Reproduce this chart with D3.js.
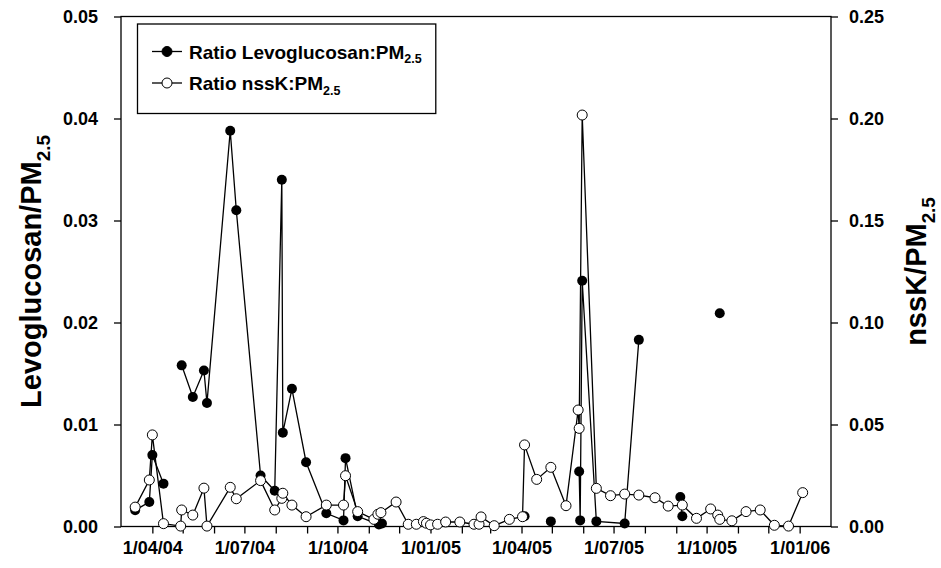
<!DOCTYPE html>
<html><head><meta charset="utf-8">
<script src="https://cdn.jsdelivr.net/npm/d3@7"></script>
<style>
body{margin:0;background:#fff}
svg{display:block}
text{font-family:Arial,"Liberation Sans",Helvetica,sans-serif;font-weight:bold;fill:#000}
</style>
</head><body>
<svg id="chart" width="941" height="568"></svg>
<script>
// ---- data ----
const levoDates = ["2004-03-15","2004-03-29","2004-04-01","2004-04-12","2004-04-29",
  "2004-04-30","2004-05-11","2004-05-22","2004-05-25","2004-06-17","2004-06-23","2004-07-17","2004-07-31",
  "2004-08-07","2004-08-08","2004-08-17","2004-08-31","2004-09-20","2004-10-07","2004-10-09","2004-10-21",
  "2004-11-11","2004-11-14","2004-11-28","2005-04-04","2005-04-16","2005-04-30","2005-05-15",
  "2005-05-28","2005-05-29","2005-05-31","2005-06-14","2005-07-12","2005-07-26","2005-08-11",
  "2005-09-05","2005-09-07","2005-09-21","2005-10-14"];
const levoValues = [0.0016,0.0024,0.0070,0.0042,null,
  0.0158,0.0127,0.0153,0.0121,0.0388,0.0310,0.0050,0.0035,
  0.0340,0.0092,0.0135,0.0063,0.0013,0.0006,0.0067,0.0010,
  0.0002,0.0003,null,0.0010,null,0.0005,null,
  0.0054,0.0006,0.0241,0.0005,0.0003,0.0183,null,
  0.0029,0.0010,null,0.0209];

const nssKDates = ["2004-03-15","2004-03-29","2004-04-01","2004-04-12","2004-04-29","2004-04-30",
  "2004-05-11","2004-05-22","2004-05-25","2004-06-17","2004-06-23","2004-07-17","2004-07-31","2004-08-07",
  "2004-08-08","2004-08-17","2004-08-31","2004-09-20","2004-10-07","2004-10-09","2004-10-21","2004-11-06",
  "2004-11-10","2004-11-13","2004-11-28","2004-12-10","2004-12-18","2004-12-25","2004-12-28","2005-01-01",
  "2005-01-08","2005-01-16","2005-01-30","2005-02-13","2005-02-18","2005-02-20","2005-03-05","2005-03-20",
  "2005-04-02","2005-04-04","2005-04-16","2005-04-30","2005-05-15","2005-05-27","2005-05-28","2005-05-31",
  "2005-06-14","2005-06-28","2005-07-12","2005-07-26","2005-08-11","2005-08-24","2005-09-07","2005-09-21",
  "2005-10-05","2005-10-12","2005-10-14","2005-10-26","2005-11-09","2005-11-23","2005-12-07","2005-12-21",
  "2006-01-04"];
const nssKValues = [0.0095,0.0228,0.0449,0.0014,0.0002,0.0081,
  0.0056,0.0188,0.0002,0.0192,0.0136,0.0225,0.0081,0.0138,
  0.0163,0.0105,0.0048,0.0105,0.0105,0.0249,0.0073,0.0035,
  0.0060,0.0068,0.0120,0.0011,0.0011,0.0024,0.0016,0.0008,
  0.0011,0.0022,0.0022,0.0011,0.0011,0.0047,0.0004,0.0035,
  0.0048,0.0400,0.0231,0.0290,0.0102,0.0571,0.0481,0.2017,
  0.0187,0.0151,0.0159,0.0154,0.0141,0.0100,0.0105,0.0040,
  0.0086,0.0056,0.0035,0.0028,0.0073,0.0081,0.0006,0.0002,
  0.0166];

const xTickDates = ["2004-04-01","2004-07-01","2004-10-01","2005-01-01","2005-04-01","2005-07-01","2005-10-01","2006-01-01"];
const xTickLabels = ["1/04/04","1/07/04","1/10/04","1/01/05","1/04/05","1/07/05","1/10/05","1/01/06"];
const leftTicks = [0,0.01,0.02,0.03,0.04,0.05];
const leftTickLabels = ["0.00","0.01","0.02","0.03","0.04","0.05"];
const rightTicks = [0,0.05,0.10,0.15,0.20,0.25];
const rightTickLabels = ["0.00","0.05","0.10","0.15","0.20","0.25"];
const seriesNames = ["Ratio Levoglucosan:PM", "Ratio nssK:PM"];
const subscript = "2.5";

// ---- layout ----
const parse = d3.utcParse("%Y-%m-%d");
const L = 121, R = 831, T = 16.5, B = 526.5;
const svg = d3.select("#chart");

const x = d3.scaleUtc().domain([parse("2004-03-01"), parse("2006-02-01")]).range([L, R]);
const yL = d3.scaleLinear().domain([0, 0.05]).range([B, T]);
const yR = d3.scaleLinear().domain([0, 0.25]).range([B, T]);

const levo = levoDates.map((d, i) => ({date: parse(d), v: levoValues[i]}));
const nssK = nssKDates.map((d, i) => ({date: parse(d), v: nssKValues[i]}));

// frame
svg.append("rect").attr("x", L).attr("y", T).attr("width", R - L).attr("height", B - T)
  .attr("fill", "none").attr("stroke", "#000").attr("stroke-width", 1.3);

// axes
const labelMap = new Map(xTickDates.map((d, i) => [+parse(d), xTickLabels[i]]));
const monthTicks = d3.utcMonth.range(parse("2004-04-01"), parse("2006-02-01"));
const xAxis = d3.axisBottom(x).tickValues(monthTicks).tickSize(7).tickSizeOuter(0)
  .tickPadding(8).tickFormat(d => labelMap.get(+d) || "");
const gx = svg.append("g").attr("transform", `translate(0,${B})`).call(xAxis);

const gl = svg.append("g").attr("transform", `translate(${L},0)`)
  .call(d3.axisLeft(yL).tickValues(leftTicks).tickSize(7).tickSizeOuter(0).tickPadding(16)
    .tickFormat((d, i) => leftTickLabels[i]));
const gr = svg.append("g").attr("transform", `translate(${R},0)`)
  .call(d3.axisRight(yR).tickValues(rightTicks).tickSize(7).tickSizeOuter(0).tickPadding(11)
    .tickFormat((d, i) => rightTickLabels[i]));

[gx, gl, gr].forEach(g => {
  g.select(".domain").remove();
  g.selectAll(".tick line").attr("stroke", "#000").attr("stroke-width", 1.3);
  g.selectAll("text").attr("font-size", 18).attr("font-weight", "bold")
    .attr("font-family", "Arial, 'Liberation Sans', sans-serif").attr("fill", "#000");
});

// axis titles
function titleWithSub(g, main, size) {
  const t = g.append("text").attr("text-anchor", "middle").attr("font-size", size);
  t.append("tspan").text(main);
  t.append("tspan").attr("font-size", size * 0.65).attr("dy", size * 0.3).text(subscript);
  return t;
}
const gtl = svg.append("g").attr("transform", `translate(41,${(T + B) / 2}) rotate(-90)`);
titleWithSub(gtl, "Levoglucosan/PM", 29);
const gtr = svg.append("g").attr("transform", `translate(926,${(T + B) / 2}) rotate(-90)`);
titleWithSub(gtr, "nssK/PM", 29);

// series
const lineL = d3.line().defined(d => d.v != null).x(d => x(d.date)).y(d => yL(d.v));
const lineR = d3.line().defined(d => d.v != null).x(d => x(d.date)).y(d => yR(d.v));

svg.append("path").datum(levo).attr("d", lineL).attr("fill", "none").attr("stroke", "#000").attr("stroke-width", 1.3);
svg.append("g").selectAll("circle").data(levo.filter(d => d.v != null)).join("circle")
  .attr("cx", d => x(d.date)).attr("cy", d => yL(d.v)).attr("r", 5).attr("fill", "#000");

svg.append("path").datum(nssK).attr("d", lineR).attr("fill", "none").attr("stroke", "#000").attr("stroke-width", 1.3);
svg.append("g").selectAll("circle").data(nssK).join("circle")
  .attr("cx", d => x(d.date)).attr("cy", d => yR(d.v)).attr("r", 5).attr("fill", "#fff")
  .attr("stroke", "#000").attr("stroke-width", 1);

// legend
const lg = svg.append("g");
const lgBox = lg.append("rect").attr("x", 137.5).attr("y", 24).attr("height", 89.5)
  .attr("fill", "#fff").attr("stroke", "#000").attr("stroke-width", 1.3);
const rows = [51.5, 83];
let maxEnd = 0;
seriesNames.forEach((name, i) => {
  const cy = rows[i];
  lg.append("line").attr("x1", 152).attr("x2", 182).attr("y1", cy).attr("y2", cy)
    .attr("stroke", "#000").attr("stroke-width", 1.3);
  lg.append("circle").attr("cx", 167).attr("cy", cy).attr("r", 5)
    .attr("fill", i === 0 ? "#000" : "#fff").attr("stroke", "#000").attr("stroke-width", 1);
  const t = lg.append("text").attr("x", 189).attr("y", cy + 7).attr("font-size", 19);
  t.append("tspan").text(name);
  t.append("tspan").attr("font-size", 12.5).attr("dy", 4.5).text(subscript);
  const bb = t.node().getBBox();
  maxEnd = Math.max(maxEnd, bb.x + bb.width);
});
lgBox.attr("width", maxEnd + 14 - 137.5);
</script>
</body></html>
